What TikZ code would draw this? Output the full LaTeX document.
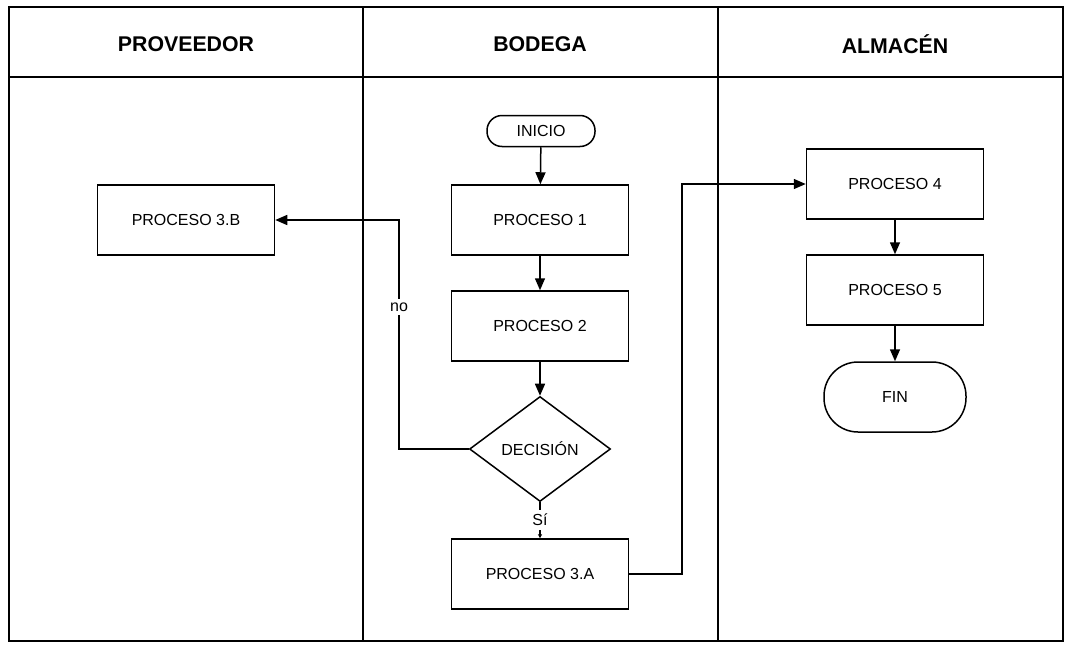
\documentclass[tikz,border=0pt]{standalone}
\usepackage{fontspec}
\setmainfont{Liberation Sans}
\usetikzlibrary{arrows.meta,shapes.geometric}
\begin{document}
\begin{tikzpicture}[x=1pt,y=-1pt,
  line width=1.5pt,
  every node/.style={font=\fontsize{16}{19}\selectfont},
  head/.style={font=\fontsize{21.3}{24}\selectfont\bfseries},
  procbox/.style={draw,minimum width=177pt,minimum height=70pt,inner sep=0pt},
  pill/.style={draw,rounded corners=15pt,minimum width=108pt,minimum height=31pt,inner sep=0pt},
  finpill/.style={draw,rounded corners=34pt,minimum width=142pt,minimum height=70pt,inner sep=0pt},
  decide/.style={draw,diamond,minimum width=141pt,minimum height=105pt,inner sep=0pt},
  flow/.style={-{Triangle[length=12pt,width=10pt]}},
  lbl/.style={fill=white,inner xsep=2pt,inner ysep=4pt}]
\useasboundingbox (0,0) rectangle (1072,648);
% swimlane frame
\draw (9,7) rectangle (1063,641);
\draw (9,77) -- (1063,77);
\draw (363,7) -- (363,641);
\draw (718,7) -- (718,641);
\node[head] (h1) at (186,44) {PROVEEDOR};
\node[head] (h2) at (540,44) {BODEGA};
\node[head] (h3) at (895,44) {ALMACÉN};
% nodes
\node[pill] (ini) at (541,131) {INICIO};
\node[procbox] (p1) at (540,220) {PROCESO 1};
\node[procbox] (p2) at (540,326) {PROCESO 2};
\node[decide] (dec) at (540,449) {DECISIÓN};
\node[procbox] (p3a) at (540,574) {PROCESO 3.A};
\node[procbox] (p3b) at (186,220) {PROCESO 3.B};
\node[procbox] (p4) at (895,184) {PROCESO 4};
\node[procbox] (p5) at (895,290) {PROCESO 5};
\node[finpill] (fin) at (895,397) {FIN};
% connectors
\draw[flow] (ini) -- (p1);
\draw[flow] (p1) -- (p2);
\draw[flow] (p2) -- (dec);
\draw[-{Triangle[length=4pt,width=4pt]}] (dec.south) -- node[lbl,pos=0.48] (si) {Sí} (p3a.north);
\draw[flow] (dec.west) -- (399,449) -- node[lbl,pos=0.62] (no) {no} (399,220) -- (p3b.east);
\draw[flow] (p3a.east) -- (682,574) -- (682,184) -- (p4.west);
\draw[flow] (p4) -- (p5);
\draw[flow] (p5) -- (fin);
\end{tikzpicture}
\end{document}
